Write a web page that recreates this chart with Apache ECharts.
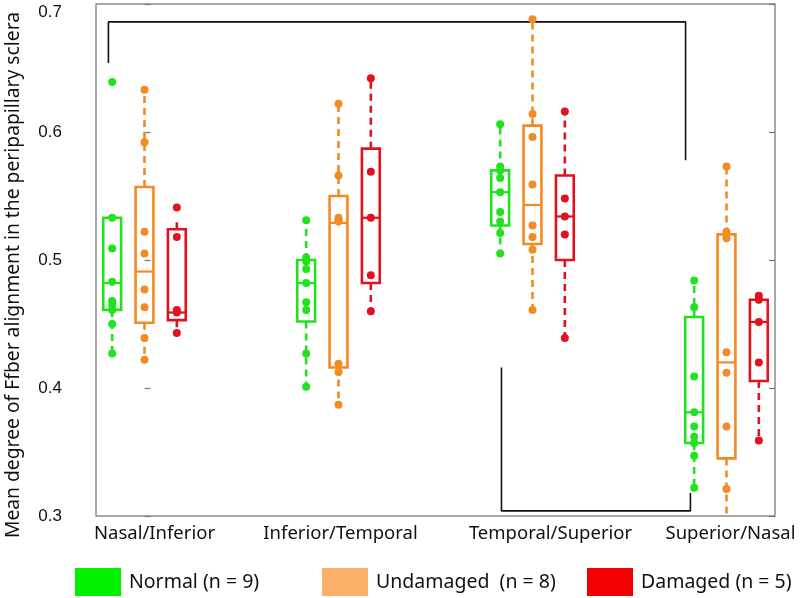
<!DOCTYPE html>
<html>
<head>
<meta charset="utf-8">
<script src="https://cdn.jsdelivr.net/npm/echarts@6/dist/echarts.min.js"></script>
<style>html,body{margin:0;padding:0;background:#fff}#c{width:800px;height:598px}</style>
</head>
<body>
<div id="c"></div>
<script>
// ---- data ----
const categories = ['Nasal/Inferior', 'Inferior/Temporal', 'Temporal/Superior', 'Superior/Nasal'];
const groupNames = ['Normal (n = 9)', 'Undamaged  (n = 8)', 'Damaged (n = 5)'];
const yTicks = [0.3, 0.4, 0.5, 0.6, 0.7];

// box stats per category: [low whisker, q1, median, q3, high whisker]
const normalBox = [
  [0.427, 0.461, 0.482, 0.533, 0.533],
  [0.401, 0.452, 0.482, 0.500, 0.531],
  [0.505, 0.527, 0.553, 0.570, 0.606],
  [0.322, 0.357, 0.381, 0.4555, 0.484]
];
const undamagedBox = [
  [0.422, 0.451, 0.491, 0.557, 0.633],
  [0.387, 0.416, 0.529, 0.550, 0.622],
  [0.461, 0.5125, 0.543, 0.605, 0.688],
  [0.280, 0.345, 0.420, 0.520, 0.573]
];
const damagedBox = [
  [0.443, 0.453, 0.459, 0.524, 0.530],
  [0.460, 0.482, 0.533, 0.587, 0.642],
  [0.439, 0.500, 0.534, 0.566, 0.616],
  [0.359, 0.4055, 0.4516, 0.469, 0.4734]
];

// individual eyes per category
const normalPoints = [
  [0.639, 0.533, 0.509, 0.483, 0.468, 0.465, 0.461, 0.450, 0.427],
  [0.531, 0.502, 0.499, 0.493, 0.482, 0.467, 0.461, 0.427, 0.401],
  [0.606, 0.573, 0.570, 0.564, 0.553, 0.5375, 0.530, 0.521, 0.505],
  [0.484, 0.463, 0.409, 0.381, 0.370, 0.362, 0.357, 0.347, 0.322]
];
const undamagedPoints = [
  [0.633, 0.592, 0.522, 0.505, 0.477, 0.463, 0.439, 0.422],
  [0.622, 0.566, 0.533, 0.531, 0.530, 0.419, 0.4125, 0.387],
  [0.688, 0.614, 0.596, 0.559, 0.527, 0.518, 0.508, 0.461],
  [0.573, 0.522, 0.517, 0.428, 0.412, 0.370, 0.321, 0.280]
];
const damagedPoints = [
  [0.541, 0.518, 0.461, 0.459, 0.443],
  [0.642, 0.569, 0.533, 0.488, 0.460],
  [0.616, 0.548, 0.534, 0.520, 0.439],
  [0.472, 0.469, 0.4516, 0.420, 0.359]
];

// significance brackets, in axis units (x = category position, y = value)
const bracketTop = [[-0.186, 0.654], [-0.186, 0.686], [2.789, 0.686], [2.789, 0.578]];
const bracketBottom = [[1.840, 0.416], [1.840, 0.304], [2.814, 0.304], [2.814, 0.318]];

// ---- styles ----
const lineColors = ['#22e21f', '#f28b22', '#e0121e'];
const legendColors = ['#00f000', '#fbb067', '#f50000'];
const offsets = [-1 / 6, 0, 1 / 6];
const allBoxes = [normalBox, undamagedBox, damagedBox];
const allPoints = [normalPoints, undamagedPoints, damagedPoints];
const sansFont = '"Noto Sans", "Open Sans", sans-serif';

const series = [];
allBoxes.forEach(function (boxes, g) {
  const color = lineColors[g];
  series.push({
    name: groupNames[g],
    type: 'custom',
    clip: true,
    z: 3,
    data: boxes.map(function (b, c) { return [c + offsets[g]].concat(b); }),
    renderItem: function (params, api) {
      const x = api.value(0);
      const hw = api.size([1, 0])[0] * 0.046;
      const pLow = api.coord([x, api.value(1)]);
      const pQ1 = api.coord([x, api.value(2)]);
      const pMed = api.coord([x, api.value(3)]);
      const pQ3 = api.coord([x, api.value(4)]);
      const pHigh = api.coord([x, api.value(5)]);
      const cx = pQ1[0];
      const st = { stroke: color, lineWidth: 2.6, fill: null };
      const dash = { stroke: color, lineWidth: 2.6, lineDash: [7, 5] };
      const children = [
        { type: 'line', shape: { x1: cx, y1: pQ3[1], x2: cx, y2: pHigh[1] }, style: dash },
        { type: 'line', shape: { x1: cx, y1: pQ1[1], x2: cx, y2: pLow[1] }, style: dash },
        { type: 'rect', shape: { x: cx - hw, y: pQ3[1], width: 2 * hw, height: pQ1[1] - pQ3[1] }, style: st },
        { type: 'line', shape: { x1: cx - hw, y1: pMed[1], x2: cx + hw, y2: pMed[1] }, style: { stroke: color, lineWidth: 2.2 } }
      ];
      return { type: 'group', children: children };
    }
  });
  const pts = [];
  allPoints[g].forEach(function (vals, c) {
    vals.forEach(function (v) { pts.push([c + offsets[g], v]); });
  });
  series.push({
    name: groupNames[g],
    type: 'scatter',
    z: 4,
    symbol: 'circle',
    symbolSize: 8,
    itemStyle: { color: color, opacity: 1 },
    data: pts
  });
});

[bracketTop, bracketBottom].forEach(function (b) {
  series.push({
    type: 'line',
    silent: true,
    symbol: 'none',
    z: 2,
    lineStyle: { color: '#111', width: 1.6 },
    data: b
  });
});

const legendLefts = [75, 322, 587];
const legends = groupNames.map(function (n, i) {
  return {
    data: [{ name: n, icon: 'rect', itemStyle: { color: legendColors[i] } }],
    left: legendLefts[i],
    top: 568,
    padding: 0,
    itemWidth: 46,
    itemHeight: 28,
    selectedMode: false,
    textStyle: { fontSize: 19.5, fontFamily: sansFont, color: '#111', padding: [0, 0, 0, 3] }
  };
});

const labelShift = ['c0', 'c1', 'c2', 'c3'];
const xFont = 18.5;
const chart = echarts.init(document.getElementById('c'), null, { renderer: 'canvas' });
chart.setOption({
  animation: false,
  backgroundColor: '#fff',
  grid: {
    left: 96, right: 25, top: 4, bottom: 82,
    outerBoundsMode: 'none', containLabel: false,
    show: true, borderColor: '#8c8c8c', borderWidth: 1.5, backgroundColor: 'transparent'
  },
  legend: legends,
  xAxis: {
    type: 'value',
    min: -0.25,
    max: 3.25,
    interval: 0.25,
    axisLine: { show: false },
    axisTick: { show: false },
    splitLine: { show: false },
    axisLabel: {
      margin: 8,
      fontSize: xFont,
      fontFamily: sansFont,
      color: '#111',
      formatter: function (v) {
        const r = Math.round(v);
        if (Math.abs(v - r) < 1e-6 && r >= 0 && r < categories.length) {
          return '{' + labelShift[r] + '|' + categories[r] + '}';
        }
        return '';
      },
      rich: {
        c0: { fontSize: xFont, fontFamily: sansFont, color: '#111', padding: [0, 0, 0, 20] },
        c1: { fontSize: xFont, fontFamily: sansFont, color: '#111', padding: [0, 0, 0, 4] },
        c2: { fontSize: xFont, fontFamily: sansFont, color: '#111', padding: [0, 0, 0, 36] },
        c3: { fontSize: xFont, fontFamily: sansFont, color: '#111', padding: [0, 0, 0, 8] }
      }
    }
  },
  yAxis: [{
    type: 'value',
    min: yTicks[0],
    max: yTicks[yTicks.length - 1],
    interval: 0.1,
    name: 'Mean degree of Ffber alignment in the peripapillary sclera',
    nameLocation: 'middle',
    nameGap: 73,
    nameTextStyle: { fontSize: 19.3, fontFamily: sansFont, color: '#111', padding: [0, 30, 0, 0] },
    axisLine: { show: false },
    axisTick: { show: true, inside: true, length: 6, lineStyle: { color: '#777', width: 1.2 } },
    splitLine: { show: false },
    axisLabel: {
      margin: 34,
      fontSize: 17,
      fontFamily: '"Liberation Sans", Arial, sans-serif',
      color: '#111',
      verticalAlignMaxLabel: 'top',
      verticalAlignMinLabel: 'middle',
      formatter: function (v) { return v.toFixed(1); }
    }
  }, {
    type: 'value',
    position: 'right',
    min: yTicks[0],
    max: yTicks[yTicks.length - 1],
    interval: 0.1,
    axisLine: { show: false },
    axisTick: { show: true, inside: true, length: 6, lineStyle: { color: '#777', width: 1.2 } },
    splitLine: { show: false },
    axisLabel: { show: false }
  }],
  series: series
});
</script>
</body>
</html>
